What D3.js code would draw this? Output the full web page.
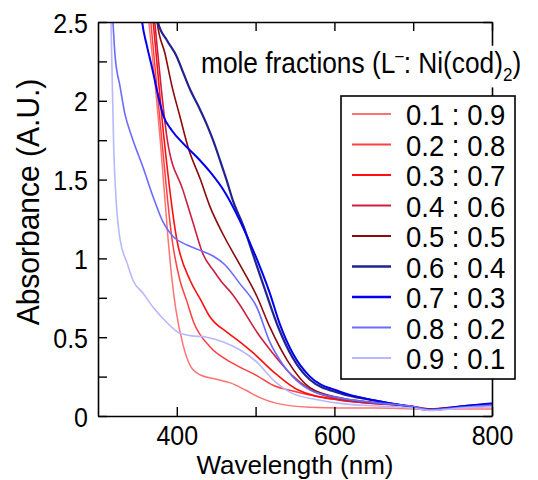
<!DOCTYPE html>
<html><head><meta charset="utf-8">
<script src="https://cdn.jsdelivr.net/npm/d3@7"></script>
<style>
html,body{margin:0;padding:0;background:#fff;}
svg text{font-family:"Liberation Sans",Arial,Helvetica,sans-serif;fill:#000;}
</style></head>
<body><svg id="c" width="538" height="480"></svg>
<script>
// ---- data (wavelength nm, absorbance) ----
const labels = ["0.1 : 0.9","0.2 : 0.8","0.3 : 0.7","0.4 : 0.6","0.5 : 0.5","0.6 : 0.4","0.7 : 0.3","0.8 : 0.2","0.9 : 0.1"];
const colors = ["#ff7373","#ff4040","#ff1010","#cc2040","#8b0a0a","#222290","#0000ee","#6b6bff","#b8b8ff"];
const widths = [1.5,1.5,1.6,1.6,1.6,2.2,2.0,1.6,1.6];
const s01 = [[360,2.7],[364.5,2.5],[379,1.75],[389,1.12],[394,0.86],[399,0.67],[408,0.45],[417,0.32],[430,0.26],[449,0.235],[468,0.21],[487,0.165],[506,0.115],[527,0.08],[569,0.055],[607,0.05],[650,0.05],[700,0.045],[722,0.04],[760,0.045],[800,0.045]];
const s02 = [[363,2.7],[367,2.5],[381,1.75],[394,1.12],[404,0.86],[412,0.74],[421,0.60],[442,0.44],[464,0.355],[480,0.31],[502,0.255],[522,0.195],[546,0.16],[582,0.12],[633,0.09],[680,0.07],[722,0.045],[760,0.055],[800,0.06]];
const s03 = [[366,2.7],[370,2.5],[384,1.75],[400,1.12],[417,0.86],[430,0.74],[442,0.63],[464,0.53],[480,0.47],[497,0.40],[525,0.27],[552,0.17],[607,0.10],[650,0.08],[700,0.06],[722,0.045],[760,0.06],[800,0.065]];
const s04 = [[368,2.7],[372,2.5],[388,1.75],[408,1.43],[421,1.22],[433,1.03],[447,0.92],[457,0.85],[471,0.77],[482,0.69],[493,0.60],[502,0.53],[520,0.41],[546,0.26],[569,0.17],[607,0.105],[650,0.08],[700,0.06],[722,0.04],[760,0.055],[800,0.065]];
const s05 = [[373,2.7],[375,2.5],[385,2.30],[394,2.09],[404,1.90],[414,1.71],[430,1.50],[442,1.33],[459,1.15],[480,0.96],[502,0.755],[518,0.565],[540,0.355],[569,0.18],[607,0.115],[650,0.085],[700,0.06],[722,0.04],[760,0.055],[800,0.07]];
const s06 = [[374,2.7],[376,2.5],[388,2.38],[400,2.28],[408,2.18],[417,2.07],[427,1.97],[438,1.85],[446,1.75],[455,1.62],[463,1.50],[471,1.37],[485,1.20],[497,1.02],[512,0.80],[529,0.56],[547,0.37],[569,0.23],[607,0.145],[650,0.10],[684,0.07],[722,0.04],[760,0.06],[800,0.075]];
const s07 = [[352,2.7],[356,2.5],[362,2.35],[368.6,2.21],[376,2.04],[382.6,1.91],[394,1.81],[408,1.73],[426,1.64],[442,1.55],[461,1.42],[480,1.24],[502,0.99],[518,0.78],[531,0.58],[548,0.39],[569,0.25],[607,0.155],[650,0.10],[684,0.07],[722,0.038],[760,0.06],[800,0.08]];
const s08 = [[317,2.7],[319,2.5],[321.6,2.29],[328,2.09],[334,1.92],[343,1.77],[357,1.58],[370,1.39],[382.6,1.23],[395,1.14],[413,1.085],[430,1.05],[446,1.015],[461,0.96],[480,0.84],[502,0.685],[518,0.47],[540,0.29],[569,0.165],[607,0.115],[650,0.085],[700,0.06],[722,0.04],[760,0.055],[800,0.07]];
const s09 = [[315.5,2.7],[316.5,2.5],[320,1.69],[323,1.37],[328,1.12],[337,0.97],[344.5,0.86],[357,0.78],[370,0.69],[388,0.59],[402,0.53],[417,0.51],[438,0.50],[459,0.47],[480,0.42],[502,0.34],[522,0.23],[544,0.15],[582,0.10],[607,0.08],[650,0.065],[700,0.05],[722,0.035],[760,0.05],[800,0.06]];
const series = [s01,s02,s03,s04,s05,s06,s07,s08,s09];
const xTicks = [400,500,600,700,800];
const xTickLabels = [400,600,800];
const yTicks = [0,0.25,0.5,0.75,1,1.25,1.5,1.75,2,2.25,2.5];
const yTickLabels = [0,0.5,1,1.5,2,2.5];
const xTitle = "Wavelength (nm)";
const yTitle = "Absorbance (A.U.)";

// ---- layout ----
const L=98, R=492, T=22, B=416;
const SY = 1.13; // vertical glyph stretch seen in the reference
const svg = d3.select("#c");
const x = d3.scaleLinear().domain([300,800]).range([L,R]);
const y = d3.scaleLinear().domain([0,2.5]).range([B,T]);

svg.append("defs").append("clipPath").attr("id","clip")
  .append("rect").attr("x",L).attr("y",T).attr("width",R-L).attr("height",B-T);

const line = d3.line().x(d=>x(d[0])).y(d=>y(d[1])).curve(d3.curveMonotoneX);
const g = svg.append("g").attr("clip-path","url(#clip)");
series.forEach((s,i)=>{
  g.append("path").datum(s).attr("d",line).attr("fill","none")
   .attr("stroke",colors[i]).attr("stroke-width",widths[i]).attr("stroke-linejoin","round");
});

// axes
const fmtX = d => xTickLabels.includes(d) ? d : "";
const fmtY = d => yTickLabels.includes(d) ? d3.format("~g")(d) : "";
const axB = svg.append("g").attr("transform",`translate(0,${B})`).call(d3.axisBottom(x).tickValues(xTicks).tickSize(-9).tickSizeOuter(0).tickFormat(fmtX));
const axT = svg.append("g").attr("transform",`translate(0,${T})`).call(d3.axisTop(x).tickValues(xTicks).tickSize(-9).tickSizeOuter(0).tickFormat(""));
const axL = svg.append("g").attr("transform",`translate(${L},0)`).call(d3.axisLeft(y).tickValues(yTicks).tickSize(-9).tickSizeOuter(0).tickFormat(fmtY));
const axR = svg.append("g").attr("transform",`translate(${R},0)`).call(d3.axisRight(y).tickValues(yTicks).tickSize(-9).tickSizeOuter(0).tickFormat(""));
[axB,axT,axL,axR].forEach(a=>{
  a.selectAll("path.domain").attr("stroke","#000").attr("stroke-width",1.6);
  a.selectAll(".tick line").attr("stroke","#000").attr("stroke-width",1.4);
  a.selectAll(".tick text").style("font-size","25px").attr("font-family",null).attr("fill","#000");
});
axB.selectAll(".tick text").attr("y",0).attr("dy",0).attr("transform",`translate(0,28.5) scale(1,1.08)`);
axL.selectAll(".tick text").attr("x",0).attr("dy",0).attr("transform",`translate(-10,10) scale(1,${SY})`);

// axis titles
svg.append("text").attr("text-anchor","middle")
  .attr("transform",`translate(${(L+R)/2},474)`)
  .style("font-size","26px").text(xTitle);
svg.append("text").attr("transform",`translate(39,${(T+B)/2-17}) rotate(-90) scale(1,1.06)`).attr("text-anchor","middle")
  .style("font-size","30px").text(yTitle);

// title with white background
const tg = svg.append("g").attr("transform",`translate(0,73) scale(1,${SY})`);
const tbg = tg.append("rect").attr("fill","#fff");
const tt = tg.append("text").attr("x",201).attr("y",0).style("font-size","26.3px");
tt.append("tspan").text("mole fractions (L");
tt.append("tspan").attr("dy",-11).style("font-size","15px").text("\u2013");
tt.append("tspan").attr("dy",11).text(": Ni(cod)");
tt.append("tspan").attr("dy",7).style("font-size","17px").text("2");
tt.append("tspan").attr("dy",-7).text(")");
const bb = tt.node().getBBox();
tbg.attr("x",bb.x-2).attr("y",bb.y).attr("width",bb.width+4).attr("height",bb.height+2);

// legend
const lg = svg.append("g");
lg.append("rect").attr("x",341).attr("y",96).attr("width",174).attr("height",283)
  .attr("fill","#fff").attr("stroke","#000").attr("stroke-width",1.6);
labels.forEach((lab,i)=>{
  const cy = 114 + i*30.5;
  lg.append("line").attr("x1",352).attr("x2",391).attr("y1",cy).attr("y2",cy)
    .attr("stroke",colors[i]).attr("stroke-width",widths[i]+0.3);
  lg.append("text").attr("transform",`translate(406,${cy+11}) scale(1,1.04)`).style("font-size","27.5px").text(lab);
});
</script></body></html>
